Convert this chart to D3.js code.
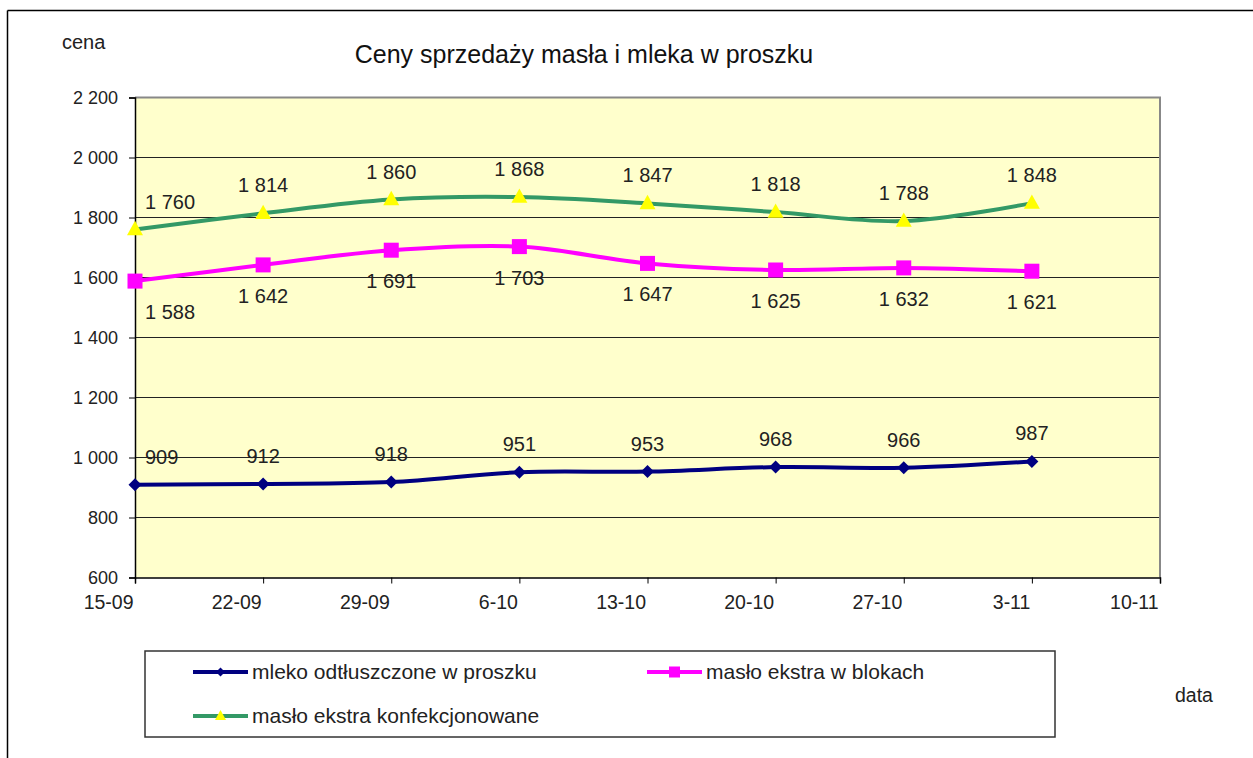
<!DOCTYPE html>
<html>
<head>
<meta charset="utf-8">
<script src="https://cdn.jsdelivr.net/npm/d3@7"></script>
<style>
  html, body { margin: 0; padding: 0; background: #fff; }
  svg { display: block; font-family: "Liberation Sans", Arial, sans-serif; }
</style>
</head>
<body>
<svg id="chart" width="1253" height="758"></svg>
<script>
// ---- data ----
const categories = ["15-09", "22-09", "29-09", "6-10", "13-10", "20-10", "27-10", "3-11", "10-11"];
const mlekoOdtluszczone = [909, 912, 918, 951, 953, 968, 966, 987];
const masloBloki = [1588, 1642, 1691, 1703, 1647, 1625, 1632, 1621];
const masloKonfekcjonowane = [1760, 1814, 1860, 1868, 1847, 1818, 1788, 1848];
const yTickValues = [600, 800, 1000, 1200, 1400, 1600, 1800, 2000, 2200];
const seriesNames = ["mleko odtłuszczone w proszku", "masło ekstra w blokach", "masło ekstra konfekcjonowane"];
const titleText = "Ceny sprzedaży masła i mleka w proszku";
const yAxisTitle = "cena";
const xAxisTitle = "data";

// ---- styles ----
const styles = [
  { color: "#000080", marker: "diamond", labelPos: "above" },
  { color: "#FF00FF", marker: "square", labelPos: "below" },
  { color: "#339966", marker: "triangle", markerFill: "#FFFF00", labelPos: "above" }
];

const series = [mlekoOdtluszczone, masloBloki, masloKonfekcjonowane].map((vals, i) => ({
  name: seriesNames[i], values: vals, ...styles[i]
}));

const svg = d3.select("#chart");
const plot = { left: 135, right: 1160, top: 97.5, bottom: 577.5 };

const fmt = d3.formatLocale({ decimal: ",", thousands: " ", grouping: [3], currency: ["", ""] }).format(",");

const x = d3.scalePoint().domain(categories).range([plot.left, plot.right]).padding(0);
const y = d3.scaleLinear().domain([600, 2200]).range([plot.bottom, plot.top]);

// outer frame (top & left)
svg.append("line").attr("x1", 7.5).attr("x2", 1253).attr("y1", 10.5).attr("y2", 10.5)
  .attr("stroke", "#000").attr("stroke-width", 1.5);
svg.append("line").attr("x1", 7.5).attr("x2", 7.5).attr("y1", 10.5).attr("y2", 758)
  .attr("stroke", "#000").attr("stroke-width", 1.5);

// plot background
svg.append("rect").attr("x", plot.left).attr("y", plot.top)
  .attr("width", plot.right - plot.left).attr("height", plot.bottom - plot.top)
  .attr("fill", "#FFFFCC");

// gridlines
svg.append("g").selectAll("line").data(yTickValues.filter(v => v > 600 && v < 2200)).join("line")
  .attr("x1", plot.left).attr("x2", plot.right)
  .attr("y1", d => y(d)).attr("y2", d => y(d))
  .attr("stroke", "#222").attr("stroke-width", 1);

// plot border top and right (gray)
svg.append("path")
  .attr("d", `M${plot.left},${plot.top}H${plot.right}V${plot.bottom}`)
  .attr("fill", "none").attr("stroke", "#888").attr("stroke-width", 2);

// y axis
const yAxis = svg.append("g").attr("transform", `translate(${plot.left},0)`)
  .call(d3.axisLeft(y).tickValues(yTickValues).tickFormat(fmt).tickSize(6).tickPadding(11));
yAxis.select(".domain").attr("stroke", "#000").attr("stroke-width", 1.5);
yAxis.selectAll(".tick line").attr("stroke", "#000");
yAxis.selectAll("text").attr("font-size", 18).attr("fill", "#222")
  .attr("font-family", "'Liberation Sans', Arial, sans-serif");

// x axis
const xAxis = svg.append("g").attr("transform", `translate(0,${plot.bottom})`)
  .call(d3.axisBottom(x).tickSize(6).tickPadding(12));
xAxis.select(".domain").attr("stroke", "#000").attr("stroke-width", 1.5);
xAxis.selectAll(".tick line").attr("stroke", "#000");
xAxis.selectAll("text").attr("font-size", 19.5).attr("fill", "#222")
  .attr("text-anchor", "end").attr("dx", -2)
  .attr("font-family", "'Liberation Sans', Arial, sans-serif");

// lines
const line = d3.line()
  .x((d, i) => x(categories[i]))
  .y(d => y(d))
  .curve(d3.curveCatmullRom.alpha(0.5));

function drawMarker(g, type, cx, cy, size, color, fill) {
  if (type === "diamond") {
    const s = size / 2;
    g.append("path").attr("d", `M${cx},${cy - s}L${cx + s},${cy}L${cx},${cy + s}L${cx - s},${cy}Z`)
      .attr("fill", color);
  } else if (type === "square") {
    g.append("rect").attr("x", cx - size / 2).attr("y", cy - size / 2)
      .attr("width", size).attr("height", size).attr("fill", color);
  } else if (type === "triangle") {
    const h = size * 0.9;
    g.append("path").attr("d", `M${cx},${cy - h * 0.6}L${cx + size / 2},${cy + h * 0.4}L${cx - size / 2},${cy + h * 0.4}Z`)
      .attr("fill", fill);
  }
}

const markerSizes = { diamond: 13, square: 15, triangle: 16 };

series.forEach(s => {
  svg.append("path").datum(s.values).attr("d", line)
    .attr("fill", "none").attr("stroke", s.color).attr("stroke-width", 4)
    .attr("stroke-linejoin", "round");
  const g = svg.append("g");
  s.values.forEach((v, i) => {
    drawMarker(g, s.marker, x(categories[i]), y(v), markerSizes[s.marker], s.color, s.markerFill);
  });
});

// data labels
series.forEach(s => {
  const g = svg.append("g");
  s.values.forEach((v, i) => {
    const px = x(categories[i]);
    const py = y(v);
    const t = g.append("text").text(fmt(v))
      .attr("font-size", 20).attr("fill", "#222")
      .attr("text-anchor", "middle")
      .attr("x", px)
      .attr("y", s.labelPos === "above" ? py - 21 : py + 38);
    const bb = t.node().getBBox();
    if (bb.x < plot.left + 10) {
      t.attr("x", px + (plot.left + 10 - bb.x));
    }
  });
});

// title and axis titles
svg.append("text").text(titleText).attr("x", 584).attr("y", 63)
  .attr("text-anchor", "middle").attr("font-size", 25).attr("fill", "#111");
svg.append("text").text(yAxisTitle).attr("x", 62).attr("y", 49)
  .attr("font-size", 20).attr("fill", "#222");
svg.append("text").text(xAxisTitle).attr("x", 1175).attr("y", 702)
  .attr("font-size", 19.5).attr("fill", "#222");

// legend
const legend = svg.append("g");
legend.append("rect").attr("x", 145).attr("y", 651).attr("width", 910).attr("height", 86)
  .attr("fill", "#fff").attr("stroke", "#333").attr("stroke-width", 1.5);
const legendPos = [
  { lx: 193, ly: 672 },
  { lx: 647, ly: 672 },
  { lx: 193, ly: 716 }
];
series.forEach((s, i) => {
  const p = legendPos[i];
  legend.append("line").attr("x1", p.lx).attr("x2", p.lx + 55).attr("y1", p.ly).attr("y2", p.ly)
    .attr("stroke", s.color).attr("stroke-width", 4);
  drawMarker(legend, s.marker, p.lx + 27.5, p.ly, s.marker === "diamond" ? 9 : 11, s.color, s.markerFill);
  legend.append("text").text(s.name).attr("x", p.lx + 59).attr("y", p.ly + 7)
    .attr("font-size", 21).attr("fill", "#222");
});
</script>
</body>
</html>
